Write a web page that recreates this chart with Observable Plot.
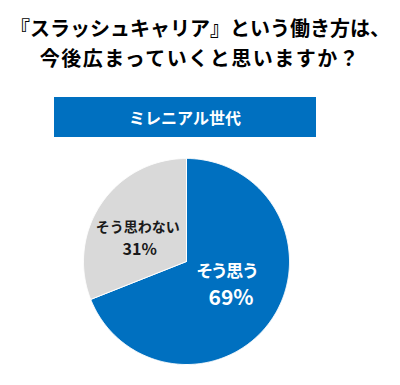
<!DOCTYPE html>
<html>
<head>
<meta charset="utf-8">
<script src="https://cdn.jsdelivr.net/npm/d3@7"></script>
<script src="https://cdn.jsdelivr.net/npm/@observablehq/plot@0.6"></script>
<style>
  html, body { margin: 0; padding: 0; background: #fff; }
  #wrap { position: relative; width: 400px; height: 385px; overflow: hidden; font-family: "Noto Sans CJK JP", sans-serif; }
  #title { position: absolute; top: 13px; left: 0; width: 400px; text-align: center; font-weight: bold; font-size: 20px; line-height: 30px; color: #000; }
  #title .l2 { letter-spacing: 1.5px; }
  #banner { position: absolute; top: 97px; left: 54px; width: 262px; height: 40px; background: #0070C0; color: #fff; font-weight: bold; font-size: 16px; line-height: 40px; text-align: center; }
  #chart { position: absolute; top: 137px; left: 0; }
  #chart text.palt { font-feature-settings: "palt"; }
</style>
</head>
<body>
<div id="wrap">
  <div id="title"><div>『スラッシュキャリア』という働き方は、</div><div class="l2">今後広まっていくと思いますか？</div></div>
  <div id="banner">ミレニアル世代</div>
  <div id="chart"></div>
</div>
<script>
const categories = ["そう思う", "そう思わない"];
const values = [69, 31];
const percentLabels = ["69%", "31%"];
const colors = ["#0070C0", "#D9D9D9"];

const arcs = d3.pie().sort(null).value(d => d)(values);
const points = [];
arcs.forEach((a, i) => {
  const cat = categories[i];
  points.push({cat, x: 0, y: 0});
  const n = Math.max(2, Math.ceil((a.endAngle - a.startAngle) / 0.01));
  for (let k = 0; k <= n; k++) {
    const t = a.startAngle + (a.endAngle - a.startAngle) * k / n;
    points.push({cat, x: Math.sin(t), y: Math.cos(t)});
  }
  points.push({cat, x: 0, y: 0});
});

const labelRadius = [0.5, 0.62];
const labelData = arcs.map((a, i) => {
  const m = (a.startAngle + a.endAngle) / 2;
  return {cat: categories[i], pct: percentLabels[i],
          x: labelRadius[i] * Math.sin(m), y: labelRadius[i] * Math.cos(m)};
});

const cx = 186, cy = 124, r = 103;
const jp = "'Noto Sans CJK JP', sans-serif";
const chart = Plot.plot({
  width: 400,
  height: 248,
  margin: 0,
  x: {domain: [-1, 1], range: [cx - r, cx + r], axis: null},
  y: {domain: [-1, 1], range: [cy + r, cy - r], axis: null},
  color: {domain: categories, range: colors},
  style: {background: "transparent", fontFamily: jp},
  marks: [
    Plot.line(points, {x: "x", y: "y", z: "cat", fill: "cat", stroke: "#fff", strokeWidth: 1, curve: "linear"}),
    Plot.text([labelData[0]], {x: "x", y: "y", text: "cat", fill: "#fff", fontSize: 17, fontWeight: "bold", dx: -2, dy: -19}),
    Plot.text([labelData[0]], {x: "x", y: "y", text: "pct", fill: "#fff", fontSize: 21, fontWeight: "bold", dx: 2, dy: 8}),
    Plot.text([labelData[1]], {x: "x", y: "y", text: "cat", fill: "#1a1a1a", fontSize: 14, fontWeight: "bold", dx: 4, dy: 2}),
    Plot.text([labelData[1]], {x: "x", y: "y", text: "pct", fill: "#1a1a1a", fontSize: 16, fontWeight: "bold", dx: 6, dy: 24})
  ]
});
d3.select(chart).selectAll("g[aria-label=text]").filter((d, i) => i === 0).selectAll("text").classed("palt", true);
document.getElementById("chart").appendChild(chart);
</script>
</body>
</html>
